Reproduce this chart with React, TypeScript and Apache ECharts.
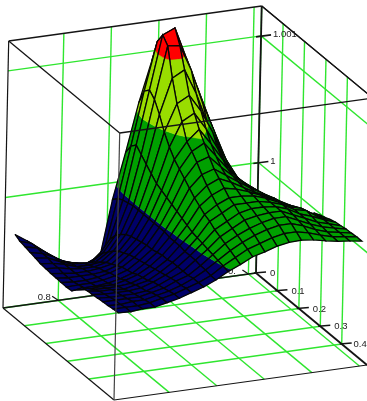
import React, { useEffect, useRef } from "react";
import * as echarts from "echarts";

// Heights of the surface (thousandths of the box height), one row per y grid line, one column per x grid line.
const surfaceHeights: number[][] = [
  [250,260,265,270,280,290,300,310,320,335,380,400,409,416,424,430,433,437,438,440,440],
  [265,280,300,310,320,325,335,345,355,365,375,400,424,433,440,446,447,447,447,447,447],
  [280,300,330,340,350,360,370,380,400,420,430,441,452,463,470,465,460,458,455,453,452],
  [320,380,430,425,420,420,425,430,440,450,460,465,470,475,480,480,480,475,470,465,460],
  [370,440,520,500,475,465,465,470,475,480,485,490,495,500,505,505,500,495,490,480,470],
  [450,540,640,610,570,530,515,510,510,510,510,510,515,520,520,520,520,515,505,490,475],
  [560,660,760,720,660,645,600,575,555,545,540,535,535,535,530,525,520,515,505,490,473],
  [780,840,880,850,780,730,680,640,610,585,570,560,550,540,530,525,515,505,495,480,465],
  [920,970,1000,950,875,795,745,700,665,630,600,580,560,540,530,515,505,490,480,465,450],
  [850,940,980,955,850,770,720,660,640,615,585,560,540,520,505,490,480,470,460,450,438],
  [700,760,780,760,720,670,630,600,580,560,540,520,505,490,480,465,455,445,435,425,415],
  [520,560,580,560,540,520,500,490,480,470,460,450,440,430,425,420,415,410,405,400,395],
  [350,370,380,385,390,390,390,390,390,390,390,385,385,385,380,380,380,375,375,370,370],
  [130,190,240,270,290,305,315,320,325,330,330,335,340,340,345,345,345,345,350,350,350],
  [110,150,180,210,230,250,265,275,285,290,295,300,305,310,315,320,325,330,330,335,335],
  [115,135,160,180,200,215,230,240,250,260,265,270,280,285,290,300,305,310,315,320,320],
  [125,145,170,185,200,210,220,230,235,245,250,255,265,270,280,285,290,300,305,310,310],
  [150,170,185,195,205,210,220,225,230,235,240,245,255,265,270,280,285,290,295,300,300],
  [200,210,215,220,220,225,225,225,230,230,235,240,255,265,275,280,285,290,295,295,300],
  [240,245,245,240,240,235,235,230,230,230,235,240,250,265,275,280,285,290,290,295,295],
  [270,260,255,250,245,240,238,236,235,234,233,235,255,280,283,285,288,290,292,295,297],
];

const xGrid = [0,0.024,0.048,0.072,0.096,0.12,0.145,0.169,0.193,0.217,0.241,0.265,0.289,0.313,0.337,0.361,0.386,0.41,0.434,0.458,0.482];
const yGrid = [-0.032,0.019,0.07,0.121,0.172,0.223,0.274,0.325,0.376,0.427,0.478,0.529,0.58,0.631,0.682,0.733,0.784,0.835,0.886,0.937,0.988];

const xRange = [0, 0.518];
const yRange = [-0.032, 1.032];
const xTickValues = [0, 0.1, 0.2, 0.3, 0.4];
const xTickLabels = ["0", "0.1", "0.2", "0.3", "0.4"];
const yTickValues = [0, 0.2, 0.4, 0.6, 0.8];
const yTickShown = [
  { value: 0, label: "0." },
  { value: 0.8, label: "0.8" },
];
const zTickHeights = [414, 888];
const zTickLabels = ["1", "1.001"];
const bandLimits = [400, 675, 910];
const bandColors = ["#000068", "#00a000", "#99dd00", "#ff0000"];

const GREEN = "#2fe62f";
const INK = "#141414";
const FONT = '9.5px "Liberation Sans"';

// Oblique view of the box, expressed on hidden pixel-scaled axes.
const origin = [256, 273];
const ex = [111, 92];
const ey = [-253, 35];
const ez = [5.7, -267];

const uOf = (x: number) => (x - xRange[0]) / (xRange[1] - xRange[0]);
const vOf = (y: number) => (y - yRange[0]) / (yRange[1] - yRange[0]);

function proj(u: number, v: number, h: number): number[] {
  return [
    origin[0] + ex[0] * u + ey[0] * v + ez[0] * h,
    origin[1] + ex[1] * u + ey[1] * v + ez[1] * h,
  ];
}

type P3 = [number, number, number];

function clipAbove(poly: P3[], limit: number, keepAbove: boolean): P3[] {
  const out: P3[] = [];
  const inside = (p: P3) => (keepAbove ? p[2] >= limit : p[2] <= limit);
  for (let k = 0; k < poly.length; k++) {
    const a = poly[k];
    const b = poly[(k + 1) % poly.length];
    const ia = inside(a);
    const ib = inside(b);
    if (ia) out.push(a);
    if (ia !== ib) {
      const t = (limit - a[2]) / (b[2] - a[2]);
      out.push([a[0] + (b[0] - a[0]) * t, a[1] + (b[1] - a[1]) * t, limit]);
    }
  }
  return out;
}

function line(api: any, a: number[], b: number[], stroke: string, lineWidth: number) {
  const p = api.coord(a);
  const q = api.coord(b);
  return { type: "line", shape: { x1: p[0], y1: p[1], x2: q[0], y2: q[1] }, style: { stroke, lineWidth, fill: null } };
}

export default function App() {
  const ref = useRef<HTMLDivElement>(null);
  useEffect(() => {
    const chart = echarts.init(ref.current!, undefined, { renderer: "svg" });

    const cells: number[][] = [];
    for (let i = 0; i < xGrid.length - 1; i++) {
      for (let j = 0; j < yGrid.length - 1; j++) cells.push([i, j]);
    }

    const walls = (api: any) => {
      const kids: any[] = [];
      xTickValues.forEach((x) => {
        const u = uOf(x);
        kids.push(line(api, proj(u, 0, 0), proj(u, 0, 1), GREEN, 1.4));
        kids.push(line(api, proj(u, 0, 0), proj(u, 1, 0), GREEN, 1.4));
      });
      yTickValues.forEach((y) => {
        const v = vOf(y);
        kids.push(line(api, proj(0, v, 0), proj(0, v, 1), GREEN, 1.4));
        kids.push(line(api, proj(0, v, 0), proj(1, v, 0), GREEN, 1.4));
      });
      zTickHeights.forEach((h) => {
        kids.push(line(api, proj(0, 0, h / 1000), proj(1, 0, h / 1000), GREEN, 1.4));
        kids.push(line(api, proj(0, 0, h / 1000), proj(0, 1, h / 1000), GREEN, 1.4));
      });
      // back edges of the box
      kids.push(line(api, proj(0, 1, 0), proj(0, 0, 0), INK, 1.3));
      kids.push(line(api, proj(0, 0, 0), proj(1, 0, 0), INK, 1.8));
      kids.push(line(api, proj(0, 1, 0), proj(1, 1, 0), INK, 1.2));
      kids.push(line(api, proj(1, 1, 0), proj(1, 0, 0), INK, 1.2));
      kids.push(line(api, proj(0, 1, 0), proj(0, 1, 1), INK, 1.2));
      kids.push(line(api, proj(0, 0, 0), proj(0, 0, 1), INK, 1.8));
      kids.push(line(api, proj(0, 1, 1), proj(0, 0, 1), INK, 1.3));
      kids.push(line(api, proj(0, 0, 1), proj(1, 0, 1), INK, 1.3));
      return { type: "group", children: kids };
    };

    const text = (api: any, at: number[], dx: number, dy: number, label: string) => {
      const p = api.coord(at);
      return {
        type: "text",
        style: { x: Math.min(p[0] + dx, 353.5), y: p[1] + dy, text: label, font: FONT, fill: "#222", textVerticalAlign: "middle" },
      };
    };

    const ticks = (api: any) => {
      const kids: any[] = [];
      xTickValues.forEach((x, k) => {
        const a = proj(uOf(x), 0, 0);
        kids.push(line(api, [a[0] - 2, a[1]], [a[0] + 10, a[1] - 1], INK, 1.4));
        kids.push(text(api, a, 14, -0.5, xTickLabels[k]));
      });
      yTickShown.forEach((t) => {
        const a = proj(0, vOf(t.value), 0);
        kids.push(line(api, [a[0] - 6, a[1] - 4], a, INK, 1.2));
        kids.push(text(api, a, -20.5, -4, t.label));
      });
      zTickHeights.forEach((h, k) => {
        const a = proj(0, 0, h / 1000);
        kids.push(line(api, [a[0] - 5, a[1] + 1], [a[0] + 10, a[1] - 1], INK, 1.6));
        kids.push(text(api, a, 12, -2, zTickLabels[k]));
      });
      return { type: "group", children: kids };
    };

    const surface = (params: any, api: any) => {
      const i = api.value(0);
      const j = api.value(1);
      const corner = (a: number, b: number): P3 => [uOf(xGrid[a]), vOf(yGrid[b]), surfaceHeights[b][a]];
      const quad: P3[] = [corner(i, j), corner(i + 1, j), corner(i + 1, j + 1), corner(i, j + 1)];
      const toPts = (poly: P3[]) => poly.map((p) => api.coord(proj(p[0], p[1], p[2] / 1000)));
      const kids: any[] = [];
      bandColors.forEach((color, b) => {
        let piece = quad;
        if (b > 0) piece = clipAbove(piece, bandLimits[b - 1], true);
        if (piece.length && b < bandLimits.length) piece = clipAbove(piece, bandLimits[b], false);
        if (piece.length >= 3) {
          kids.push({ type: "polygon", shape: { points: toPts(piece) }, style: { fill: color, stroke: color, lineWidth: 0.4 } });
        }
      });
      kids.push({ type: "polygon", shape: { points: toPts(quad) }, style: { fill: "none", stroke: "#050505", lineWidth: 1.3 } });
      return { type: "group", children: kids };
    };

    const front = (api: any) => ({
      type: "group",
      children: [
        line(api, proj(1, 1, 0), proj(1, 1, 1), "#444", 1.2),
        line(api, proj(0, 1, 1), proj(1, 1, 1), INK, 1.3),
        line(api, proj(1, 1, 1), proj(1, 0, 1), INK, 1.3),
        line(api, proj(1, 0, 1), proj(0, 0, 1), INK, 1.3),
      ],
    });

    const single = (name: string, z: number, draw: (api: any) => any) => ({
      type: "custom",
      name,
      z,
      clip: false,
      silent: true,
      coordinateSystem: "cartesian2d",
      data: [[0, 0]],
      renderItem: (_: any, api: any) => draw(api),
    });

    chart.setOption({
      animation: false,
      grid: { left: 0, right: 0, top: 0, bottom: 0 },
      xAxis: { type: "value", min: 0, max: 367, show: false },
      yAxis: { type: "value", min: 0, max: 401, inverse: true, show: false },
      series: [
        single("walls", 1, walls),
        single("ticks", 2, ticks),
        {
          type: "custom",
          name: "surface",
          z: 3,
          clip: false,
          silent: true,
          coordinateSystem: "cartesian2d",
          data: cells,
          renderItem: surface,
        },
        single("front", 4, front),
      ],
    });
    return () => chart.dispose();
  }, []);
  return (
    <div
      ref={ref}
      style={{ position: "absolute", left: 0, top: 0, width: 367, height: 401, background: "#fff", overflow: "hidden", filter: "blur(0.35px)" }}
    />
  );
}
